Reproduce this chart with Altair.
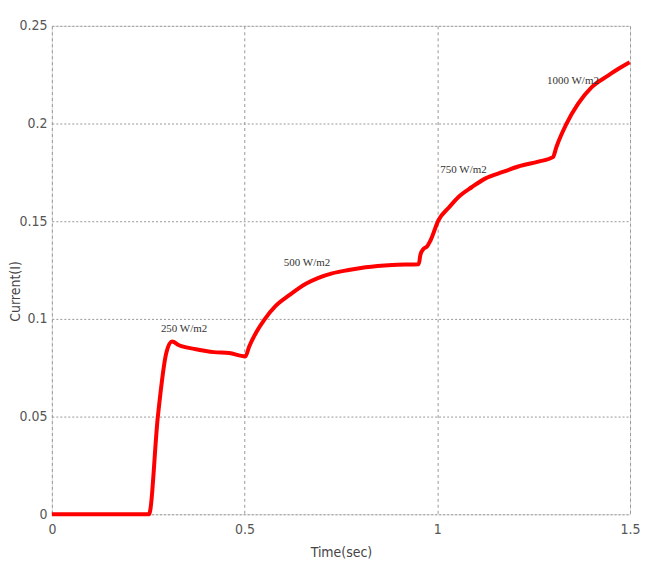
import altair as alt
import pandas as pd

t = [0, 0.25, 0.252, 0.275, 0.297, 0.312, 0.33, 0.374, 0.42, 0.46, 0.502, 0.512,
     0.53, 0.551, 0.58, 0.615, 0.659, 0.69, 0.727, 0.77, 0.814, 0.883, 0.952, 0.956,
     0.965, 0.973, 0.982, 1.003, 1.03, 1.055, 1.09, 1.124, 1.17, 1.21, 1.262, 1.30,
     1.309, 1.335, 1.365, 1.40, 1.443, 1.47, 1.499]
current = [0, 0, 0, 0.05, 0.0827, 0.0884, 0.0865, 0.0845, 0.083, 0.0825, 0.0808, 0.0859,
           0.093, 0.0995, 0.1065, 0.112, 0.118, 0.1209, 0.1233, 0.125, 0.1264, 0.1276,
           0.128, 0.1327, 0.136, 0.137, 0.140, 0.1505, 0.157, 0.1624, 0.1675, 0.1718,
           0.1752, 0.178, 0.1805, 0.1828, 0.188, 0.1998, 0.21, 0.2185, 0.2245, 0.228, 0.2313]

label_text = ["250 W/m2", "500 W/m2", "750 W/m2", "1000 W/m2"]
label_t = [0.343, 0.662, 1.068, 1.352]
label_y = [0.095, 0.1286, 0.176, 0.222]

x_ticks = [0, 0.5, 1, 1.5]
y_ticks = [0, 0.05, 0.1, 0.15, 0.2, 0.25]

df = pd.DataFrame({"t": t, "i": current})
lab = pd.DataFrame({"text": label_text, "t": label_t, "i": label_y})

sans = "DejaVu Sans Condensed, Liberation Sans, Arial, sans-serif"

xsc = alt.Scale(domain=[0, 1.5], nice=False, zero=False)
ysc = alt.Scale(domain=[0, 0.25], nice=False)

line = alt.Chart(df).mark_line(color="#ff0000", strokeWidth=4, strokeJoin="round",
                               interpolate="monotone").encode(
    x=alt.X("t:Q", scale=xsc, title="Time(sec)",
            axis=alt.Axis(values=x_ticks, format="~g", grid=True, gridDash=[3, 3],
                          gridColor="#999", gridWidth=1, ticks=False, domain=False,
                          labelFlush=False,
                          labelFont=sans, labelFontSize=14, labelColor="#555",
                          labelPadding=8, titleFont=sans, titleFontSize=14,
                          titleFontWeight="normal", titleColor="#444", titlePadding=9)),
    y=alt.Y("i:Q", scale=ysc, title="Current(I)",
            axis=alt.Axis(values=y_ticks, format="~g", grid=True, gridDash=[2, 2],
                          gridColor="#999", gridWidth=1, ticks=False, domain=False,
                          labelFlush=False,
                          labelFont=sans, labelFontSize=14, labelColor="#555",
                          labelPadding=5, titleFont=sans, titleFontSize=14,
                          titleFontWeight="normal", titleColor="#444",
                          titleAngle=270, titleBaseline="middle", titleAlign="center",
                          titleX=-36, titleY=266)),
)

text = alt.Chart(lab).mark_text(font="Liberation Serif", fontSize=11, color="#333").encode(
    x=alt.X("t:Q", scale=xsc),
    y=alt.Y("i:Q", scale=ysc),
    text="text:N",
)

chart = (line + text).properties(
    width=580, height=490,
    autosize=alt.AutoSizeParams(type="none"),
    padding={"left": 44, "top": 17, "right": 10, "bottom": 50},
).configure_view(stroke="#999", strokeWidth=1.5).configure(background="white")

chart.save("out.html", embed_options={"renderer": "svg", "actions": False})
